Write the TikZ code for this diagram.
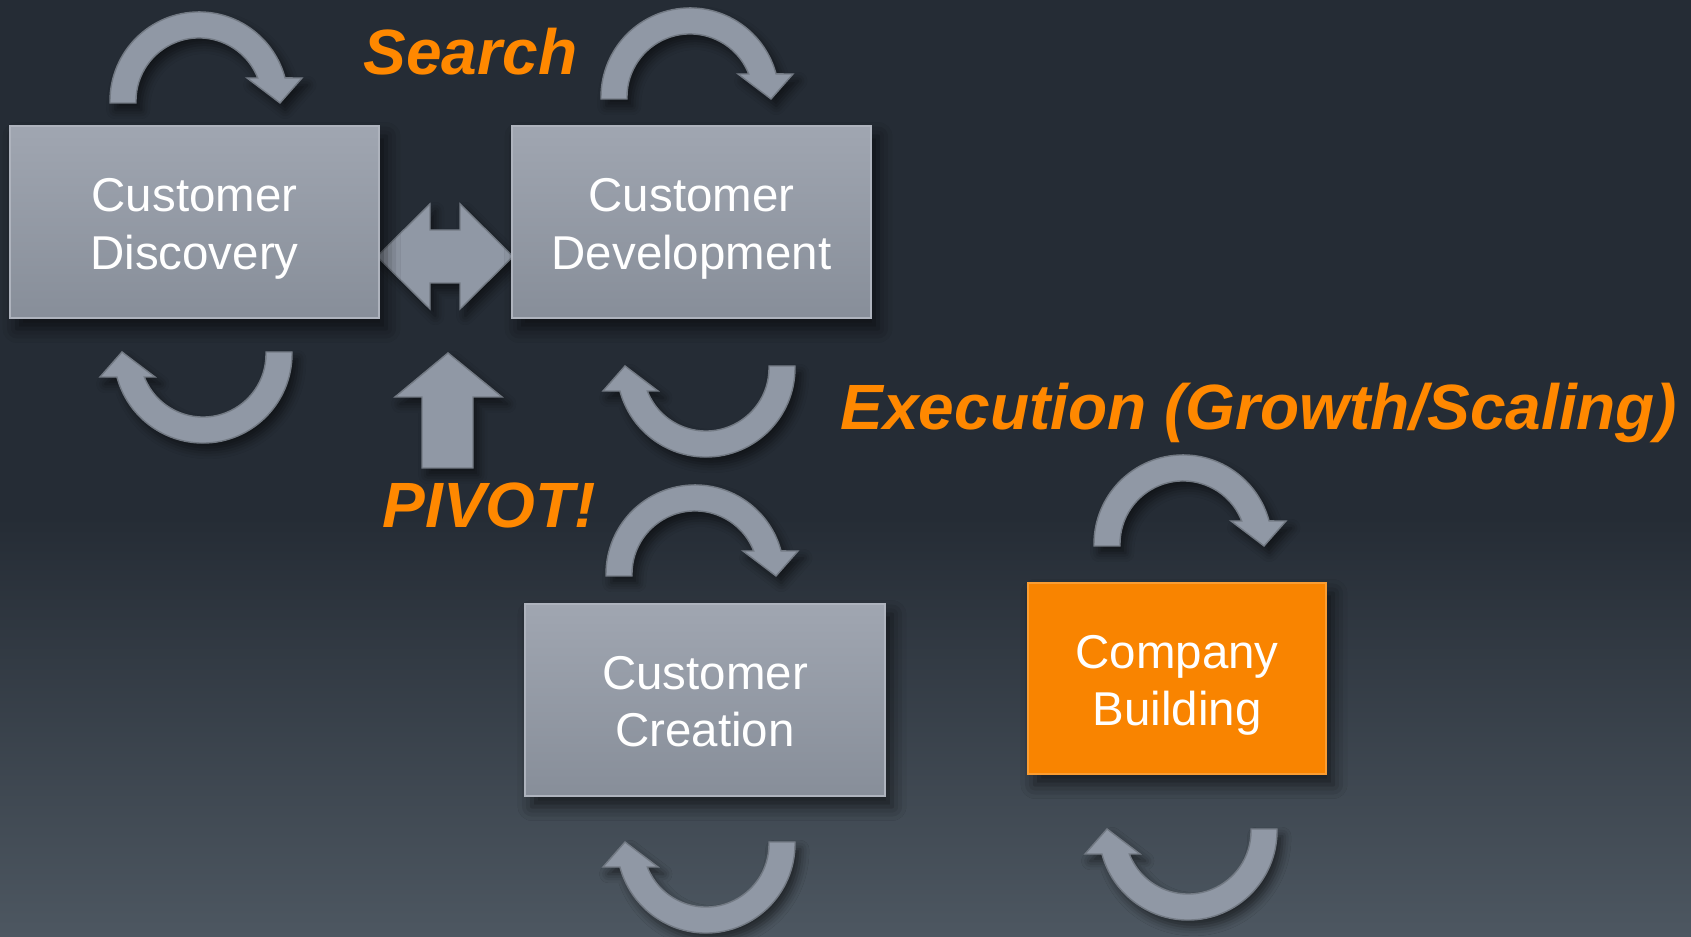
\documentclass[tikz,border=0pt]{standalone}
\usepackage{fontspec}
\setmainfont{Liberation Sans}
\usetikzlibrary{shadows.blur}

\definecolor{bgtop}{HTML}{252C35}
\definecolor{bgbot}{HTML}{4D5761}
\definecolor{boxtop}{HTML}{A0A6B1}
\definecolor{boxbot}{HTML}{878E99}
\definecolor{loopgray}{HTML}{9098A5}
\definecolor{hiorange}{HTML}{FF8800}
\definecolor{boxorange}{HTML}{F98400}

% curved "keep iterating" arrow, centre of the arc at the origin
\tikzset{
	loop arrow/.pic={
		\fill[loopgray, draw=loopgray!80!black, line width=0.4pt,
			blur shadow={shadow xshift=1.5pt, shadow yshift=-2pt, shadow blur radius=2.5pt, shadow opacity=55}]
		(-63,-2) -- (-89,-2) -- (-89,0) arc[start angle=180, end angle=15, radius=0.89cm]
		-- (103,23) -- (81,-2) -- (48,23) -- (58.7,23)
		arc[start angle=21.4, end angle=180, radius=0.63cm] -- cycle;
	}
}

\begin{document}
\begin{tikzpicture}[
	x=0.01cm, y=0.01cm,
	stage/.style={draw=boxtop!85!white, line width=0.6pt, top color=boxtop, bottom color=boxbot, inner sep=0pt,
		blur shadow={shadow xshift=2pt, shadow yshift=-3pt, shadow blur radius=4pt, shadow opacity=60}},
	boxtext/.style={text=white, align=center, inner sep=0pt, font=\fontsize{13.5}{16.3}\selectfont},
	phase/.style={text=hiorange, inner sep=0pt, anchor=base west,
		font=\fontsize{18.2}{21}\selectfont\bfseries\itshape},
	blockarrow/.style={fill=loopgray, draw=loopgray!80!black, line width=0.4pt,
		blur shadow={shadow xshift=1.5pt, shadow yshift=-2pt, shadow blur radius=2.5pt, shadow opacity=55}}
	]
	\useasboundingbox (0,0) rectangle (1691,937);
	
	% --- BACKGROUND ---
	\fill[bgtop] (0,0) rectangle (1691,937);
	\shade[top color=bgtop, bottom color=bgbot] (0,0) rectangle (1691,420);
	
	% --- SEARCH LOOP ---
	\pic at (199,836) {loop arrow};
	\pic[rotate=180] at (203,583) {loop arrow};
	\pic at (690,840) {loop arrow};
	\pic[rotate=180] at (706,569) {loop arrow};
	
	% back and forth between the two
	\draw[blockarrow] (377,680.5) -- (430,733) -- (430,707) -- (460,707) -- (460,733) -- (513,680.5)
		-- (460,628) -- (460,654) -- (430,654) -- (430,628) -- cycle;
	% pivot pushes back up
	\draw[blockarrow] (422,469) -- (422,540) -- (395,540) -- (448,584) -- (502,540) -- (473,540) -- (473,469) -- cycle;
	
	\node[stage, minimum width=3.69cm, minimum height=1.92cm,
		label={[boxtext, yshift=-0.07cm]center:{Customer\\Discovery}}] (disc) at (194.5,715) {};
	\node[stage, minimum width=3.59cm, minimum height=1.92cm,
		label={[boxtext, yshift=-0.07cm]center:{Customer\\Development}}] (dev) at (691.5,715) {};
	
	\node[phase] (search) at (363,862) {Search};
	\node[phase] (pivot) at (382,409) {PIVOT!};
	
	% --- EXECUTION ---
	\pic at (695,363) {loop arrow};
	\pic[rotate=180] at (706,93) {loop arrow};
	\pic at (1183,393) {loop arrow};
	\pic[rotate=180] at (1188,106) {loop arrow};
	
	\node[stage, minimum width=3.60cm, minimum height=1.92cm,
		label={[boxtext, yshift=-0.02cm]center:{Customer\\Creation}}] (cre) at (705,237) {};
	\node[stage, draw=boxorange!80!white, top color=boxorange, bottom color=boxorange,
		minimum width=2.98cm, minimum height=1.91cm,
		label={[boxtext, yshift=-0.07cm]center:{Company\\Building}}] (bld) at (1177,258.5) {};
	
	\node[phase] (execution) at (840,507) {Execution (Growth/Scaling)};
	
\end{tikzpicture}
\end{document}
